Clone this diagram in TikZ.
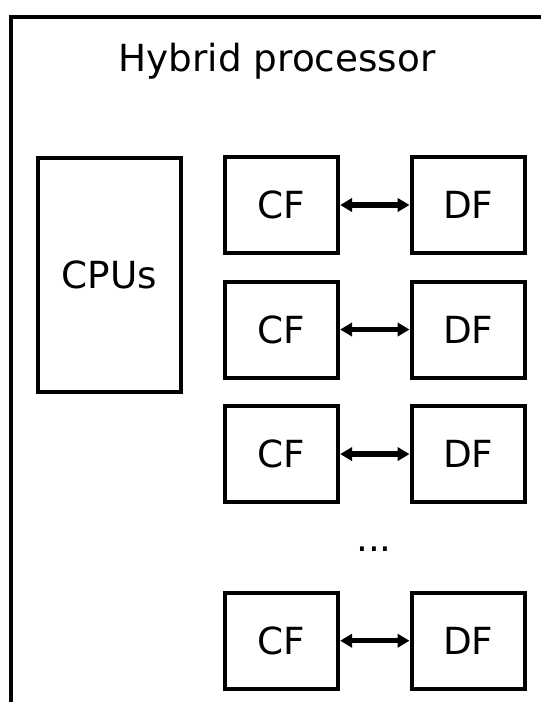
\documentclass[tikz,border=0pt]{standalone}
\usepackage{fontspec}
\setmainfont{DejaVu Sans}
\usetikzlibrary{arrows.meta,positioning}
\tikzset{
  block/.style={rectangle,draw=black,line width=3pt,minimum width=85pt,minimum height=72pt,inner sep=0pt,font=\fontsize{28}{34}\selectfont},
  label/.style={font=\fontsize{28}{34}\selectfont,inner sep=0pt},
  link/.style={{Triangle[length=9pt,width=10pt]}-{Triangle[length=9pt,width=10pt]},line width=4pt}
}

\begin{document}
\begin{tikzpicture}[x=0.75pt,y=-0.75pt,node distance=18.4pt and 52pt]
    \useasboundingbox (0,0) rectangle (541,702);
    \begin{scope}
      \clip (0,0) rectangle (541,702);
      \draw[line width=3pt] (11,17) rectangle (620,780);
    \end{scope}
    \node[label,anchor=base] (title) at (277,72) {Hybrid processor};
    \node[block,minimum width=107pt,minimum height=175.5pt] (cpus) at (109.5,275) {CPUs};
    \node[block] (cf1) at (281.5,205) {CF};
    \node[block,right=of cf1] (df1) {DF};
    \node[block,below=of cf1] (cf2) {CF};
    \node[block,right=of cf2] (df2) {DF};
    \node[block,below=of cf2] (cf3) {CF};
    \node[block,right=of cf3] (df3) {DF};
    \node[block,below=65pt of cf3] (cf4) {CF};
    \node[block,right=of cf4] (df4) {DF};
    \node[label,anchor=base] (dots) at (374,551) {...};
    \draw[link] (cf1) -- (df1);
    \draw[link] (cf2) -- (df2);
    \draw[link] (cf3) -- (df3);
    \draw[link] (cf4) -- (df4);
  \end{tikzpicture}
\end{document}
